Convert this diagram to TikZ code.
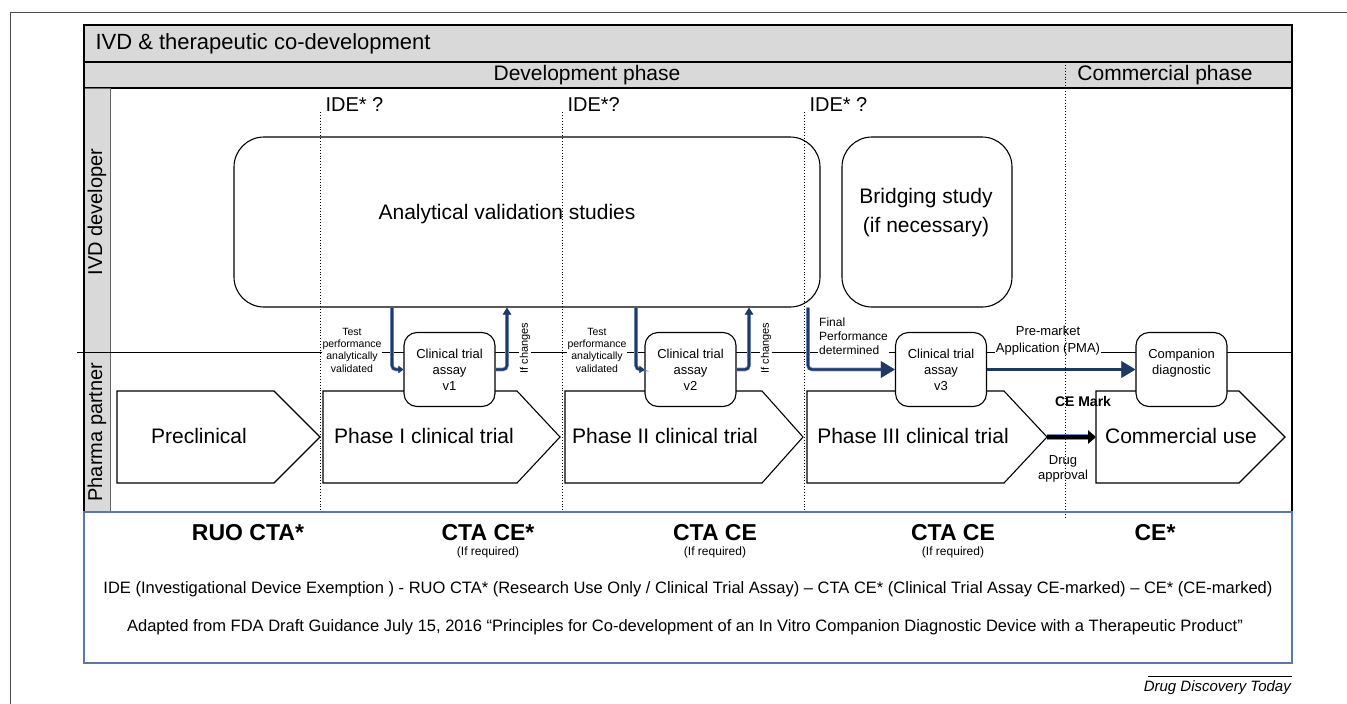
\documentclass[tikz,border=0pt]{standalone}
\usepackage{fontspec}
\setmainfont{Liberation Sans}
\usepackage{tikz}
\usetikzlibrary{arrows.meta}

\definecolor{bandgray}{HTML}{D9D9D9}
\definecolor{flownavy}{HTML}{1F3864}
\definecolor{flowedge}{HTML}{6F8FC4}
\definecolor{noteblue}{HTML}{5B78AD}
\newcommand{\fsz}[2]{\fontsize{#1}{#2}\selectfont}

\tikzset{
    band/.style={draw, fill=bandgray, line width=1.5},
    phase/.style={draw, fill=white, line width=1.1},
    study/.style={draw, rounded corners=30, line width=1.1, minimum width=#1, minimum height=170},
    assay/.style={draw, fill=white, rounded corners=13, line width=1.1, minimum width=91, minimum height=74, align=center, font=\fsz{13}{16}},
    note/.style={fill=white, align=center, inner sep=1, font=\fsz{10.5}{12.3}},
    flow/.style={preaction={draw=flowedge, line width=3.6}, draw=flownavy, line width=2.3, rounded corners=4, -{Triangle[length=7,width=8]}},
    guide/.style={line width=0.9, dotted},
    big/.style={font=\fsz{21}{25}}
}

\begin{document}
\begin{tikzpicture}[x=1pt, y=-1pt]
    \useasboundingbox (0,0) rectangle (1347,704);

    % Outer frame of the figure
    \draw[black!70, line width=1] (10,704) -- (10,12) -- (1347,12);

    % Header bands
    \draw[band] (84,25) rectangle (1292,62);
    \node[anchor=west, font=\fsz{22}{26}] (title) at (92,44) {IVD \& therapeutic co-development};
    \draw[band] (84,62) rectangle (1292,88);
    \node[big] (devphase) at (587,75) {Development phase};
    \node[big] (comphase) at (1165,75) {Commercial phase};

    % Swim lanes
    \draw[fill=bandgray, draw=black!60] (84,88) rectangle (110,512);
    \draw[line width=1.5] (84,88) -- (84,512);
    \draw[line width=1.5] (1292,88) -- (1292,512);
    \draw (77,352) -- (1292,352);
    \node[rotate=90, font=\fsz{20}{24}] (ivdlane) at (97,212) {IVD developer};
    \node[rotate=90, font=\fsz{20}{24}] (pharmalane) at (97,432) {Pharma partner};

    % Studies of the IVD developer
    \node[study=586] (anval) at (527,222) {};
    \node[big] (anvaltxt) at (507,214) {Analytical validation studies};
    \node[study=170] (bridge) at (927,222) {};
    \node[font=\fsz{21}{29}, align=center] (bridgetxt) at (926,213) {Bridging study\\(if necessary)};

    % Phases of the pharma partner
    \draw[phase] (117,391) -- (274,391) -- (320,437) -- (274,483) -- (117,483) -- cycle;
    \node[big] (precl) at (199,436) {Preclinical};
    \draw[phase] (323,391) -- (517,391) -- (560,437) -- (517,483) -- (323,483) -- cycle;
    \node[big] (ph1) at (424,436) {Phase I clinical trial};
    \draw[phase] (565,391) -- (762,391) -- (803,437) -- (762,483) -- (565,483) -- cycle;
    \node[big] (ph2) at (665,436) {Phase II clinical trial};
    \draw[phase] (807,391) -- (1004,391) -- (1047,437) coordinate (ph3tip) -- (1004,483) -- (807,483) -- cycle;
    \node[big] (ph3) at (913,436) {Phase III clinical trial};
    \draw[phase] (1096,437) coordinate (cuwest) -- (1096,391) -- (1239,391) -- (1285,437) -- (1239,483) -- (1096,483) -- cycle;
    \node[big] (cuse) at (1181,436) {Commercial use};

    % Assays on the lane border
    \node[assay] (v1) at (449.5,369.5) {Clinical trial\\assay\\v1};
    \node[assay] (v2) at (690.5,369.5) {Clinical trial\\assay\\v2};
    \node[assay] (v3) at (941,369.5) {Clinical trial\\assay\\v3};
    \node[assay] (cdx) at (1181.5,369.5) {Companion\\diagnostic\\\mbox{}};

    % Small labels
    \node[note] (tp1) at (352,350) {Test\\performance\\analytically\\validated};
    \node[note] (tp2) at (597,350) {Test\\performance\\analytically\\validated};
    \node[note, rotate=90, font=\fsz{11}{13}] (chg1) at (525,348) {If changes};
    \node[note, rotate=90, font=\fsz{11}{13}] (chg2) at (766,348) {If changes};
    \node[note, align=left, anchor=west, font=\fsz{12}{14}] (finalperf) at (818,336) {Final\\Performance\\determined};
    \node[note, font=\fsz{13}{17}] (pma) at (1048,341) {Pre-market\\Application (PMA)};
    \node[font=\bfseries\fsz{14}{16}] (cemark) at (1083,401) {CE Mark};
    \node[font=\fsz{13}{15}, align=center] (drugapp) at (1063,469) {Drug\\approval};

    % Hand-overs between the lanes
    \draw[flow, -{Triangle[length=5,width=7]}] (anval.south -| 392,0) |- (v1.west);
    \draw[flow] (v1.east) -| (anval.south -| 507,0);
    \draw[flow, -{Triangle[length=5,width=7]}] (anval.south -| 636,0) |- (v2.west);
    \draw[flow] (v2.east) -| (anval.south -| 749,0);
    \draw[flow, -{Triangle[length=14,width=16]}] (anval.south -| 808,0) |- (v3.west);
    \draw[flow, -{Triangle[length=14,width=16]}] (v3.east) -- (cdx.west);
    \draw[preaction={draw=flowedge, line width=6.5}, line width=4.5, -{Triangle[length=8,width=13]}] (ph3tip) -- (cuwest);

    % IDE milestones
    \foreach \gx/\lbl in {320/{IDE* ?}, 562/{IDE*?}, 804/{IDE* ?}} {
        \draw[guide] (\gx,112) -- (\gx,512);
        \node[anchor=west, font=\fsz{20}{24}] (ide\gx) at (\gx+2,105) {\lbl};
    }
    \draw[guide] (1065,62) -- (1065,518);

    % Legend box
    \draw[noteblue, line width=1.2] (84,512) rectangle (1292,663);
    \node[font=\bfseries\fsz{23}{27}] (ruo) at (248,533) {RUO CTA*};
    \node[font=\bfseries\fsz{23}{27}] (ctace1) at (488,533) {CTA CE*};
    \node[font=\bfseries\fsz{23}{27}] (ctace2) at (715,533) {CTA CE};
    \node[font=\bfseries\fsz{23}{27}] (ctace3) at (953,533) {CTA CE};
    \node[font=\bfseries\fsz{23}{27}] (cestar) at (1155,533) {CE*};
    \foreach \rx in {488,715,953}
        \node[font=\fsz{12}{14}] (req\rx) at (\rx,552) {(If required)};
    \node[font=\fsz{16.5}{19}] (defs) at (688,589) {IDE (Investigational Device Exemption ) - RUO CTA* (Research Use Only / Clinical Trial Assay) -- CTA CE* (Clinical Trial Assay CE-marked) -- CE* (CE-marked)};
    \node[font=\fsz{16.5}{19}] (adapted) at (685,627) {Adapted from FDA Draft Guidance July 15, 2016 “Principles for Co-development of an In Vitro Companion Diagnostic Device with a Therapeutic Product”};

    % Journal tag
    \node[anchor=east, inner sep=1, font=\itshape\fsz{15}{18}] (journal) at (1292,688) {Drug Discovery Today};
    \draw[line width=0.8] (1148,676) -- (1292,676);
\end{tikzpicture}
\end{document}
